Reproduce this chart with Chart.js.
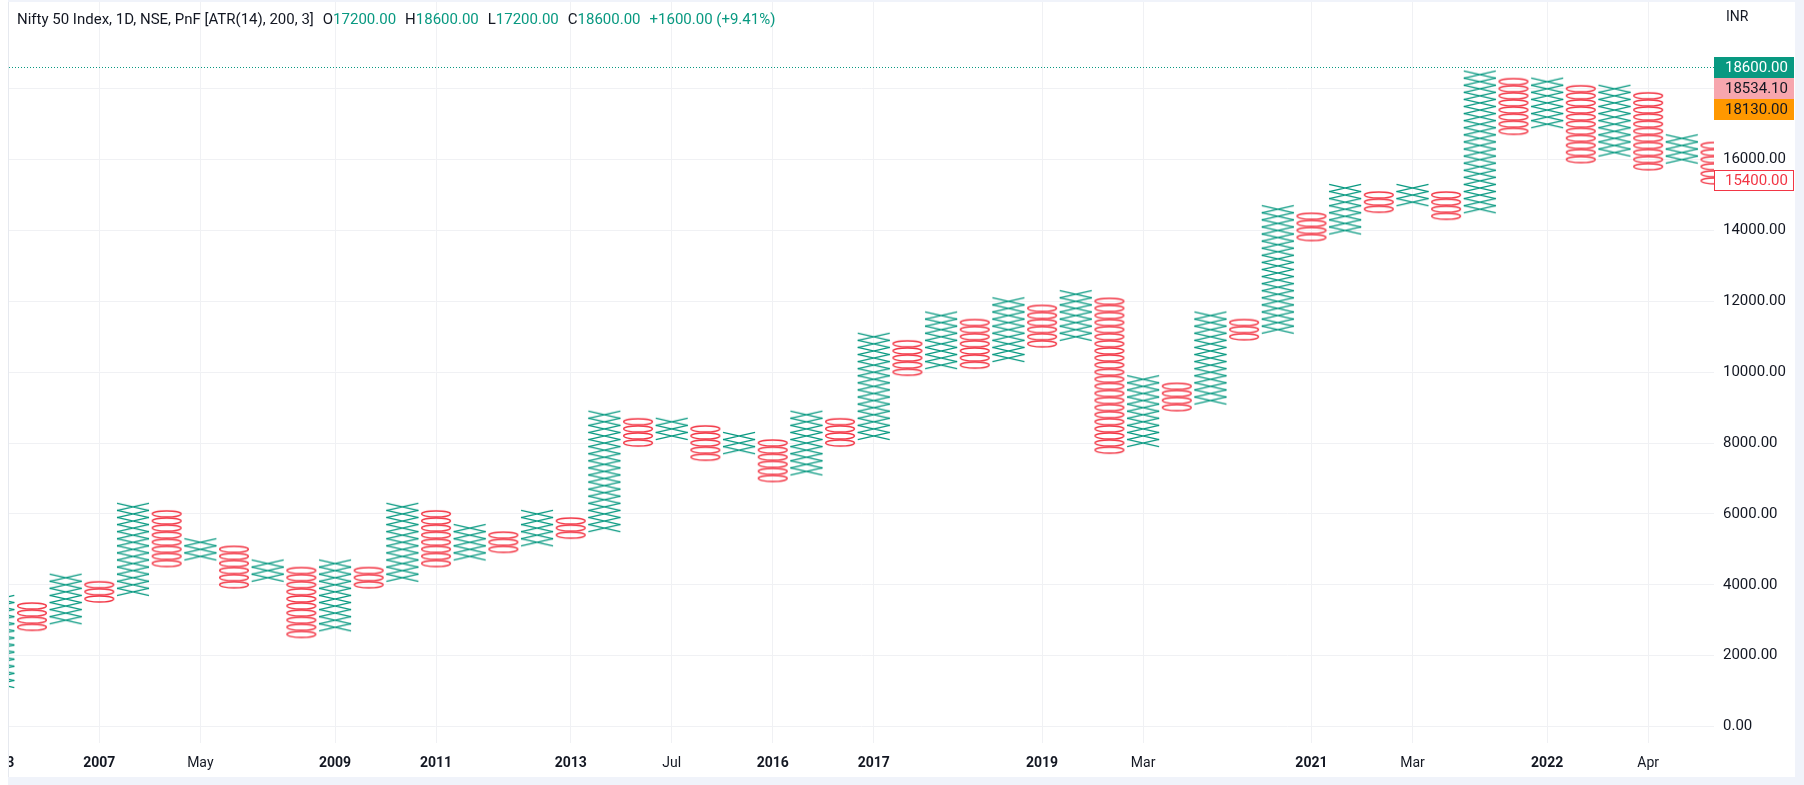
<!DOCTYPE html>
<html>
<head>
<meta charset="utf-8">
<script src="https://cdn.jsdelivr.net/npm/chart.js@4.4.0/dist/chart.umd.min.js"></script>
<style>
html,body{margin:0;padding:0;background:#ffffff;width:1804px;height:785px;overflow:hidden;}
#wrap{position:absolute;left:9px;top:0;width:1786px;height:777px;}
#lborder{position:absolute;left:8px;top:0;width:1px;height:778px;background:#E6E9EF;}
#rstrip{position:absolute;left:1795px;top:0;width:9px;height:785px;background:#F0F3FA;}
#bstrip{position:absolute;left:8px;top:777px;width:1796px;height:8px;background:#F0F3FA;}
#tstrip{position:absolute;left:8px;top:0;width:1796px;height:2px;background:#F0F3FA;}
</style>
</head>
<body>
<div id="lborder"></div>
<div id="wrap"><canvas id="c" width="1786" height="777"></canvas></div>
<div id="rstrip"></div>
<div id="bstrip"></div>
<div id="tstrip"></div>
<script>
// ---- Data (Point & Figure columns, box size 200, reversal 3) ----
const boxSize = 200;
const colTypes = ['X','O','X','O','X','O','X','O','X','O','X','O','X','O','X','O','X','O','X','O','X','O','X','O','X','O',
                  'X','O','X','O','X','O','X','O','X','O','X','O','X','O','X','O','X','O','X','O','X','O','X','O','X','O'];
const colLows  = [1200,2800,3000,3600,3800,4600,4800,4000,4200,2600,2800,4000,4200,4600,4800,5000,5200,5400,5600,8000,8200,7600,7800,7000,7200,8000,
                  8200,10000,10200,10200,10400,10800,11000,7800,8000,9000,9200,11000,11200,13800,14000,14600,14800,14400,14600,16800,17000,16000,16200,15800,16000,15400];
const colHighs = [3600,3400,4200,4000,6200,6000,5200,5000,4600,4400,4600,4400,6200,6000,5600,5400,6000,5800,8800,8600,8600,8400,8200,8000,8800,8600,
                  11000,10800,11600,11400,12000,11800,12200,12000,9800,9600,11600,11400,14600,14400,15200,15000,15200,15000,18400,18200,18200,18000,18000,17800,16600,16400];
const xTickCols   = [0,3,6,10,13,17,20,23,26,31,34,39,42,46,49];
const xTickLabels = ['2003','2007','May','2009','2011','2013','Jul','2016','2017','2019','Mar','2021','Mar','2022','Apr'];
const yTickValues = [0,2000,4000,6000,8000,10000,12000,14000,16000,18000];
const lastPrice = 18600;
const priceTags = [
  {value:18600.00, text:'18600.00', bg:'#089981', fg:'#ffffff', border:null},
  {value:18534.10, text:'18534.10', bg:'#F7A6AE', fg:'#131722', border:null},
  {value:18130.00, text:'18130.00', bg:'#FF9800', fg:'#131722', border:null},
  {value:15400.00, text:'15400.00', bg:'#ffffff', fg:'#F23645', border:'#F23645'}
];
const headerTitle = 'Nifty 50 Index, 1D, NSE, PnF [ATR(14), 200, 3]';
const headerOHLC = [['O','17200.00'],['H','18600.00'],['L','17200.00'],['C','18600.00']];
const headerChange = '+1600.00 (+9.41%)';

// ---- Layout constants ----
const X_MIN = 0.3178, X_MAX = 50.956;
const Y_MIN = -465.7, Y_MAX = 20505;
const PLOT_H = 743;
const boxPx = boxSize * PLOT_H / (Y_MAX - Y_MIN);
const GREEN = '#089981', RED = '#F23645';
const FONT = 'Roboto, "Liberation Sans", sans-serif';

function makeX(){
  const c = document.createElement('canvas'); c.width = 36; c.height = 12;
  const g = c.getContext('2d');
  g.strokeStyle = GREEN; g.lineWidth = 1.35;
  const cy = 6, h = boxPx/2;
  g.beginPath();
  g.moveTo(2, cy-h); g.lineTo(34, cy+h);
  g.moveTo(2, cy+h); g.lineTo(34, cy-h);
  g.stroke();
  return c;
}
function makeO(){
  const c = document.createElement('canvas'); c.width = 34; c.height = 12;
  const g = c.getContext('2d');
  g.strokeStyle = RED; g.lineWidth = 1.3;
  g.beginPath();
  g.ellipse(17, 6, 14.4, boxPx/2 - 0.55, 0, 0, Math.PI*2);
  g.stroke();
  return c;
}

const xPts = [], oPts = [];
colTypes.forEach((t, i) => {
  for (let v = colLows[i]; v <= colHighs[i]; v += boxSize) {
    (t === 'X' ? xPts : oPts).push({x: i, y: v});
  }
});
// keep every box drawable even for the partly visible edge columns
xPts.reverse(); oPts.reverse();

const overlay = {
  id: 'overlay',
  afterDraw(chart) {
    const ctx = chart.ctx, ca = chart.chartArea, ys = chart.scales.y;
    ctx.save();
    // last price dotted line
    const yl = Math.round(ys.getPixelForValue(lastPrice)) + 0.5;
    ctx.strokeStyle = GREEN; ctx.lineWidth = 1; ctx.setLineDash([1,2]);
    ctx.beginPath(); ctx.moveTo(ca.left, yl); ctx.lineTo(ca.right, yl); ctx.stroke();
    ctx.setLineDash([]);
    // header
    ctx.font = '15px ' + FONT; ctx.textBaseline = 'middle'; ctx.textAlign = 'left';
    let x = 17 - 9; const hy = 20;
    ctx.fillStyle = '#131722'; ctx.fillText(headerTitle, x, hy);
    x += ctx.measureText(headerTitle).width + 9;
    headerOHLC.forEach(([k, v]) => {
      ctx.fillStyle = '#131722'; ctx.fillText(k, x, hy); x += ctx.measureText(k).width;
      ctx.fillStyle = GREEN; ctx.fillText(v, x, hy); x += ctx.measureText(v).width + 9;
    });
    ctx.fillStyle = GREEN; ctx.fillText(headerChange, x, hy);
    // INR
    ctx.font = '14px ' + FONT; ctx.fillStyle = '#131722';
    ctx.fillText('INR', 1726 - 9, 17);
    // price tags
    ctx.font = '15px ' + FONT;
    const th = 21; let prevBottom = -1e9;
    priceTags.forEach(tg => {
      let cy = ys.getPixelForValue(tg.value);
      if (cy - th/2 < prevBottom) cy = prevBottom + th/2;
      const top = Math.round(cy - th/2);
      ctx.fillStyle = tg.bg;
      ctx.fillRect(ca.right, top, 80, th);
      if (tg.border) { ctx.strokeStyle = tg.border; ctx.lineWidth = 1; ctx.strokeRect(ca.right + 0.5, top + 0.5, 79, th - 1); }
      ctx.fillStyle = tg.fg; ctx.textBaseline = 'middle';
      ctx.fillText(tg.text, 1725 - 9, top + th/2 + 0.5);
      prevBottom = top + th;
    });
    ctx.restore();
  }
};

function noPad(s){ s.paddingLeft = 0; s.paddingRight = 0; s.paddingTop = 0; s.paddingBottom = 0; }

new Chart(document.getElementById('c'), {
  type: 'scatter',
  data: {
    datasets: [
      {data: xPts, pointStyle: makeX(), pointRadius: 20, clip: 0},
      {data: oPts, pointStyle: makeO(), pointRadius: 20, clip: 0}
    ]
  },
  options: {
    responsive: false, animation: false, events: [],
    layout: {padding: 0, autoPadding: false},
    plugins: {legend: {display: false}, tooltip: {enabled: false}},
    scales: {
      x: {
        type: 'linear', position: 'bottom', min: X_MIN, max: X_MAX,
        afterBuildTicks: s => { s.ticks = xTickCols.map(v => ({value: v})); },
        afterFit: s => { s.height = 34; noPad(s); },
        border: {display: false},
        grid: {color: '#F0F1F4', drawTicks: false, lineWidth: 1},
        ticks: {
          autoSkip: false, maxRotation: 0, padding: 12, color: '#131722',
          callback: (v) => { const k = xTickCols.indexOf(v); return k >= 0 ? xTickLabels[k] : ''; },
          font: (ctx) => ({family: FONT, size: 14, weight: (ctx.tick && /^\d{4}$/.test(String(ctx.tick.label))) ? 'bold' : 'normal'})
        }
      },
      y: {
        type: 'linear', position: 'right', min: Y_MIN, max: Y_MAX,
        afterBuildTicks: s => { s.ticks = yTickValues.map(v => ({value: v})); },
        afterFit: s => { s.width = 81; noPad(s); },
        border: {display: false},
        grid: {color: '#F0F1F4', drawTicks: false, lineWidth: 1},
        ticks: {
          padding: 9, color: '#131722', crossAlign: 'near',
          font: {family: FONT, size: 15},
          callback: v => Number(v).toFixed(2)
        }
      }
    }
  },
  plugins: [overlay]
});
</script>
</body>
</html>
